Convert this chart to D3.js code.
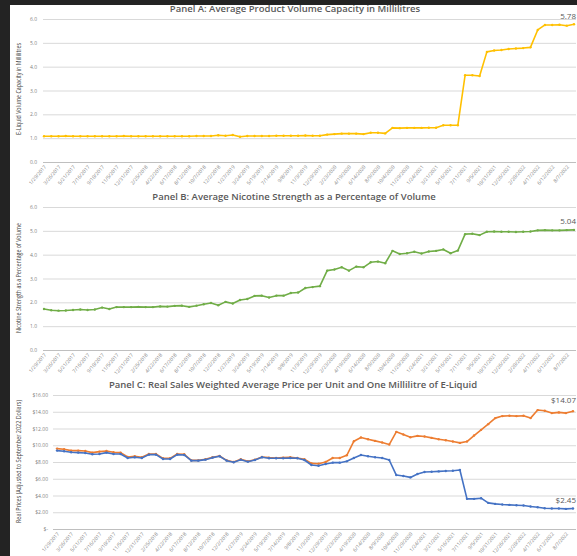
<!DOCTYPE html>
<html>
<head>
<meta charset="utf-8">
<script src="https://cdn.jsdelivr.net/npm/d3@7"></script>
<style>
  html, body { margin: 0; padding: 0; background: #232323; }
  svg { display: block; }
</style>
</head>
<body>
<svg id="chart" width="577" height="556"></svg>
<script>
// Four-weekly reporting periods, January 2017 to September 2022
const periods = [
  "1/29/2017","2/26/2017","3/26/2017","4/23/2017","5/21/2017","6/18/2017","7/16/2017","8/13/2017",
  "9/10/2017","10/8/2017","11/5/2017","12/3/2017","12/31/2017","1/28/2018","2/25/2018","3/25/2018",
  "4/22/2018","5/20/2018","6/17/2018","7/15/2018","8/12/2018","9/9/2018","10/7/2018","11/4/2018",
  "12/2/2018","12/30/2018","1/27/2019","2/24/2019","3/24/2019","4/21/2019","5/19/2019","6/16/2019",
  "7/14/2019","8/11/2019","9/8/2019","10/6/2019","11/3/2019","12/1/2019","12/29/2019","1/26/2020",
  "2/23/2020","3/22/2020","4/19/2020","5/17/2020","6/14/2020","7/12/2020","8/9/2020","9/6/2020",
  "10/4/2020","11/1/2020","11/29/2020","12/27/2020","1/24/2021","2/21/2021","3/21/2021","4/18/2021",
  "5/16/2021","6/13/2021","7/11/2021","8/8/2021","9/5/2021","10/3/2021","10/31/2021","11/28/2021",
  "12/26/2021","1/23/2022","2/20/2022","3/20/2022","4/17/2022","5/15/2022","6/12/2022","7/10/2022",
  "8/7/2022","9/4/2022"
];

// Panel A: average e-liquid volume capacity (mL)
const volumeMl = [
  1.08,1.08,1.08,1.09,1.08,1.08,1.08,1.08,1.08,1.08,1.08,1.09,1.08,1.08,1.08,1.08,
  1.08,1.08,1.08,1.08,1.08,1.09,1.09,1.09,1.12,1.10,1.13,1.06,1.09,1.09,1.09,1.09,
  1.10,1.10,1.10,1.10,1.11,1.10,1.10,1.15,1.17,1.19,1.19,1.19,1.17,1.23,1.23,1.20,
  1.43,1.42,1.43,1.43,1.43,1.44,1.44,1.54,1.54,1.54,3.64,3.64,3.61,4.62,4.68,4.70,
  4.74,4.76,4.78,4.81,5.54,5.75,5.75,5.76,5.72,5.78
];

// Panel B: average nicotine strength (% of volume)
const nicotinePct = [
  1.72,1.67,1.65,1.66,1.68,1.70,1.68,1.70,1.78,1.72,1.80,1.80,1.80,1.81,1.80,1.80,
  1.83,1.82,1.85,1.86,1.81,1.86,1.92,1.97,1.88,2.02,1.95,2.10,2.14,2.27,2.28,2.20,
  2.28,2.28,2.39,2.41,2.60,2.64,2.68,3.33,3.38,3.47,3.33,3.50,3.47,3.68,3.71,3.64,
  4.16,4.03,4.06,4.12,4.05,4.13,4.16,4.22,4.06,4.17,4.86,4.88,4.82,4.96,4.97,4.96,
  4.96,4.95,4.96,4.97,5.02,5.03,5.02,5.02,5.03,5.04
];

// Panel C: real price per unit (orange) and per millilitre (blue), Sept 2022 dollars
const pricePerUnit = [
  9.60,9.52,9.36,9.36,9.32,9.12,9.24,9.32,9.16,9.12,8.60,8.68,8.56,8.96,8.96,8.44,
  8.44,8.96,8.92,8.20,8.20,8.32,8.56,8.72,8.20,8.00,8.32,8.08,8.28,8.60,8.52,8.48,
  8.52,8.56,8.48,8.32,7.84,7.80,8.00,8.48,8.48,8.80,10.48,10.92,10.72,10.52,10.32,10.08,
  11.60,11.28,10.96,11.12,11.04,10.88,10.72,10.60,10.44,10.28,10.44,11.16,11.84,12.52,13.24,13.48,
  13.52,13.48,13.52,13.24,14.20,14.12,13.84,13.92,13.84,14.07
];
const pricePerMl = [
  9.36,9.28,9.16,9.12,9.08,8.92,8.96,9.12,8.96,8.96,8.48,8.56,8.48,8.88,8.88,8.36,
  8.36,8.88,8.84,8.16,8.16,8.28,8.52,8.68,8.16,7.96,8.28,8.04,8.24,8.56,8.44,8.44,
  8.44,8.48,8.44,8.24,7.64,7.56,7.76,7.92,7.92,8.08,8.48,8.84,8.68,8.56,8.48,8.24,
  6.44,6.32,6.16,6.56,6.80,6.84,6.88,6.92,6.96,7.04,3.60,3.60,3.68,3.12,3.00,2.92,
  2.88,2.84,2.80,2.68,2.60,2.48,2.44,2.44,2.40,2.45
];

const ticksAB = [0, 1, 2, 3, 4, 5, 6];
const ticksC = [0, 2, 4, 6, 8, 10, 12, 14, 16];

const titles = [
  "Panel A: Average Product Volume Capacity in Millilitres",
  "Panel B: Average Nicotine Strength as a Percentage of Volume",
  "Panel C: Real Sales Weighted Average Price per Unit and One Millilitre of E-Liquid"
];
const yTitles = [
  "E-Liquid Volume Capacity in Millilitres",
  "Nicotine Strength as a Percentage of Volume",
  "Real Prices (Adjusted to September 2022 Dollars)"
];

const svg = d3.select("#chart");
const W = 577, H = 556;
const textGrey = "#595959";
const gridGrey = "#d9d9d9";
const font = "'Open Sans', 'Noto Sans', sans-serif";

// white chart surface
svg.append("rect").attr("x", 10).attr("y", 5).attr("width", W - 10).attr("height", H - 5).attr("fill", "#ffffff");

const labelled = periods.filter((d, i) => i % 2 === 0);

function panel(cfg) {
  const g = svg.append("g");
  const x = d3.scalePoint().domain(periods).range([cfg.x0, cfg.x1]);
  const y = d3.scaleLinear().domain([cfg.ticks[0], cfg.ticks[cfg.ticks.length - 1]]).range([cfg.yBottom, cfg.yTop]);

  // gridlines + value axis labels
  const yAxis = d3.axisLeft(y)
    .tickValues(cfg.ticks)
    .tickSize(-(cfg.gridRight - cfg.gridLeft))
    .tickPadding(cfg.tickPad)
    .tickFormat(cfg.fmt);
  const ga = g.append("g").attr("transform", `translate(${cfg.gridLeft},0)`).call(yAxis);
  ga.select(".domain").remove();
  ga.selectAll(".tick line").attr("stroke", gridGrey).attr("stroke-width", 1);
  ga.selectAll(".tick text").attr("fill", "#7f7f7f").style("font-family", font).style("font-size", "5px");

  // category axis
  const xAxis = d3.axisBottom(x).tickValues(labelled).tickSize(0).tickPadding(0);
  const gx = g.append("g").attr("transform", `translate(0,${cfg.yBottom})`).call(xAxis);
  gx.select(".domain").attr("stroke", "#bfbfbf").attr("d", `M${cfg.gridLeft},0.5H${cfg.gridRight}`);
  gx.selectAll(".tick text")
    .attr("fill", "#7f7f7f")
    .style("font-family", font).style("font-size", "5px")
    .attr("text-anchor", "end")
    .attr("dy", null)
    .attr("transform", "translate(2,5) rotate(-50)");

  // titles
  g.append("text").attr("x", cfg.titleX).attr("y", cfg.titleY)
    .attr("text-anchor", "middle").attr("fill", textGrey)
    .style("font-family", font).style("font-size", "9.5px").style("font-weight", 600)
    .text(cfg.title);
  const mid = (cfg.yTitleTop + cfg.yTitleBottom) / 2;
  g.append("text")
    .attr("transform", `translate(${cfg.yTitleX},${mid}) rotate(-90)`)
    .attr("text-anchor", "middle").attr("fill", "#404040")
    .attr("textLength", cfg.yTitleBottom - cfg.yTitleTop).attr("lengthAdjust", "spacingAndGlyphs")
    .style("font-family", font).style("font-size", "7px")
    .text(cfg.yTitle);

  // series
  cfg.series.forEach(s => {
    const pts = periods.map((p, i) => [x(p), y(s.values[i])]);
    g.append("path").attr("d", d3.line()(pts)).attr("fill", "none")
      .attr("stroke", s.color).attr("stroke-width", 1.6).attr("stroke-linejoin", "round");
    g.selectAll(null).data(pts).join("circle")
      .attr("cx", d => d[0]).attr("cy", d => d[1]).attr("r", 1.2).attr("fill", s.color);
    // end-of-series value label, kept inside the right edge
    const last = pts[pts.length - 1];
    g.append("text").attr("x", W - 1).attr("y", last[1] + s.labelDy)
      .attr("text-anchor", "end").attr("fill", textGrey)
      .style("font-family", font).style("font-size", "8px")
      .text(s.fmt(s.values[s.values.length - 1]));
  });
}

panel({
  x0: 44, x1: 574, gridLeft: 43, gridRight: 576, yBottom: 162, yTop: 19,
  ticks: ticksAB, fmt: d3.format(".1f"), tickPad: 6,
  title: titles[0], titleX: 295, titleY: 12,
  yTitle: yTitles[0], yTitleX: 21, yTitleTop: 43, yTitleBottom: 135,
  series: [{ values: volumeMl, color: "#FFC000", fmt: d3.format(".2f"), labelDy: -5 }]
});

panel({
  x0: 44, x1: 574, gridLeft: 43, gridRight: 576, yBottom: 350, yTop: 207,
  ticks: ticksAB, fmt: d3.format(".1f"), tickPad: 6,
  title: titles[1], titleX: 294, titleY: 200,
  yTitle: yTitles[1], yTitleX: 21, yTitleTop: 223, yTitleBottom: 333,
  series: [{ values: nicotinePct, color: "#70AD47", fmt: d3.format(".2f"), labelDy: -6 }]
});

panel({
  x0: 57, x1: 573, gridLeft: 53, gridRight: 576, yBottom: 529, yTop: 395,
  ticks: ticksC, fmt: d => d === 0 ? "$-" : "$" + d3.format(".2f")(d), tickPad: 5,
  title: titles[2], titleX: 293, titleY: 388,
  yTitle: yTitles[2], yTitleX: 21, yTitleTop: 400, yTitleBottom: 523,
  series: [
    { values: pricePerUnit, color: "#ED7D31", fmt: d => "$" + d3.format(".2f")(d), labelDy: -8 },
    { values: pricePerMl, color: "#4472C4", fmt: d => "$" + d3.format(".2f")(d), labelDy: -5 }
  ]
});
</script>
</body>
</html>
